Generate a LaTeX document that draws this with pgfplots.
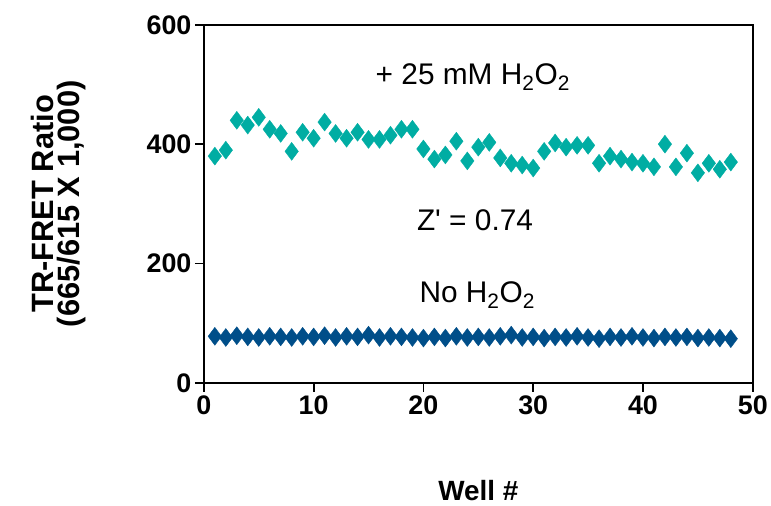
\documentclass[border=0pt]{standalone}
\usepackage{pgfplots}
\pgfplotsset{compat=1.18}
\usepackage{fontspec}
\setmainfont{Liberation Sans}
\definecolor{teal}{RGB}{0,173,163}
\definecolor{navy}{RGB}{0,78,137}
\begin{document}
\begin{tikzpicture}
\path (-205pt,-123pt) rectangle (566pt,385pt);
\begin{axis}[
  at={(0,0)}, anchor=origin,
  scale only axis, width=552pt, height=360pt,
  xmin=0, xmax=50, ymin=0, ymax=600,
  xtick={0,10,...,50}, ytick={0,200,400,600},
  tick style={line width=1.8pt,black}, tick align=outside, major tick length=9pt,
  axis line style={line width=1.8pt},
  xtick pos=bottom, ytick pos=left,
  /pgf/number format/assume math mode=true,
  ticklabel style={font=\fontsize{27}{27}\selectfont\bfseries},
  xlabel={\textbf{Well \#}}, xlabel style={font=\fontsize{28}{28}\selectfont, at={(axis description cs:0.5,-0.3)}, anchor=center},
  ylabel={\shortstack{\textbf{TR-FRET Ratio}\\\textbf{(665/615 X 1,000)}}},
  ylabel style={font=\fontsize{31}{35}\selectfont, at={(axis description cs:-0.265,0.5)}, anchor=center},
  clip=false,
]
\addplot[only marks, mark=diamond*, mark size=9pt, color=teal] coordinates {
(1,380)(2,390)(3,440)(4,432)(5,445)(6,425)(7,418)(8,388)(9,420)(10,410)
(11,437)(12,418)(13,410)(14,420)(15,408)(16,408)(17,415)(18,425)(19,425)(20,392)
(21,375)(22,382)(23,405)(24,372)(25,395)(26,403)(27,377)(28,368)(29,365)(30,360)
(31,388)(32,402)(33,395)(34,398)(35,398)(36,368)(37,380)(38,375)(39,370)(40,368)
(41,362)(42,400)(43,362)(44,385)(45,352)(46,368)(47,358)(48,370)};
\addplot[only marks, mark=diamond*, mark size=9pt, color=navy] coordinates {
(1,78)(2,76)(3,79)(4,77)(5,76)(6,78)(7,77)(8,76)(9,78)(10,77)
(11,79)(12,76)(13,78)(14,77)(15,80)(16,76)(17,78)(18,77)(19,76)(20,75)
(21,77)(22,75)(23,78)(24,76)(25,77)(26,76)(27,78)(28,80)(29,76)(30,77)
(31,75)(32,77)(33,76)(34,78)(35,76)(36,74)(37,77)(38,76)(39,78)(40,76)
(41,75)(42,77)(43,76)(44,77)(45,75)(46,76)(47,75)(48,74)};
\node[font=\fontsize{30}{30}\selectfont] at (axis cs:24.5,512) {+ 25 mM H\textsubscript{2}O\textsubscript{2}};
\node[font=\fontsize{30}{30}\selectfont] at (axis cs:24.7,272) {Z\textquotesingle{} = 0.74};
\node[font=\fontsize{30}{30}\selectfont] at (axis cs:24.9,147) {No H\textsubscript{2}O\textsubscript{2}};
\end{axis}
\end{tikzpicture}
\end{document}
